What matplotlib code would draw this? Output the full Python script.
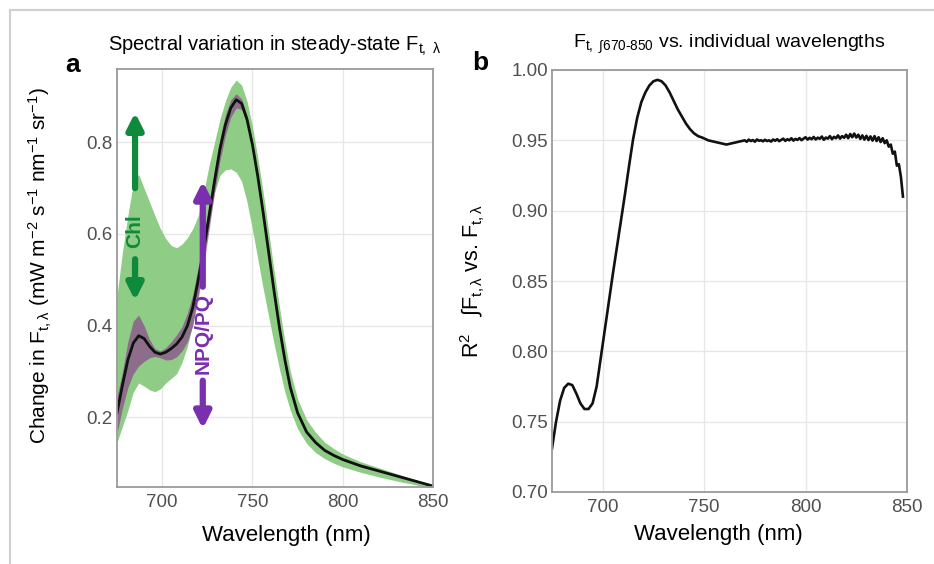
import matplotlib
matplotlib.use("Agg")
import matplotlib.pyplot as plt
from matplotlib.lines import Line2D

plt.rcParams['font.family'] = ['Liberation Sans', 'DejaVu Sans']
plt.rcParams['mathtext.fontset'] = 'custom'
plt.rcParams['mathtext.rm'] = 'Liberation Sans'
plt.rcParams['mathtext.it'] = 'Liberation Sans'
plt.rcParams['mathtext.bf'] = 'Liberation Sans:bold'

# panel a: spectral variation of steady-state Ft
wl_a = [675, 678, 681, 684, 687, 690, 693, 696, 699, 702, 705, 708, 711, 714,
        717, 720, 723, 726, 729, 732, 735, 738, 741, 744, 747, 750, 753, 756,
        759, 762, 765, 768, 771, 775, 780, 785, 790, 795, 800, 810, 820, 830,
        840, 850]
ft_mean = [0.210, 0.270, 0.325, 0.362, 0.378, 0.372, 0.355, 0.342, 0.338, 0.342,
           0.350, 0.360, 0.375, 0.400, 0.440, 0.500, 0.565, 0.640, 0.715, 0.785,
           0.838, 0.875, 0.893, 0.885, 0.850, 0.795, 0.725, 0.645, 0.560, 0.475,
           0.395, 0.325, 0.265, 0.210, 0.168, 0.145, 0.128, 0.117, 0.108, 0.094,
           0.083, 0.072, 0.061, 0.050]
chl_hi = [0.465, 0.560, 0.640, 0.710, 0.730, 0.700, 0.670, 0.640, 0.612, 0.590,
          0.575, 0.570, 0.578, 0.592, 0.612, 0.640, 0.690, 0.750, 0.800, 0.850,
          0.890, 0.920, 0.936, 0.925, 0.890, 0.835, 0.765, 0.690, 0.605, 0.520,
          0.440, 0.365, 0.300, 0.240, 0.195, 0.167, 0.146, 0.132, 0.120, 0.103,
          0.090, 0.077, 0.064, 0.052]
chl_lo = [0.145, 0.180, 0.215, 0.255, 0.275, 0.268, 0.260, 0.256, 0.262, 0.275,
          0.285, 0.295, 0.320, 0.355, 0.405, 0.470, 0.545, 0.620, 0.690, 0.728,
          0.740, 0.742, 0.735, 0.715, 0.670, 0.610, 0.545, 0.480, 0.420, 0.360,
          0.305, 0.255, 0.215, 0.175, 0.143, 0.123, 0.110, 0.100, 0.092, 0.080,
          0.070, 0.061, 0.053, 0.045]
npq_hi = [0.245, 0.300, 0.365, 0.410, 0.423, 0.400, 0.370, 0.350, 0.345, 0.352,
          0.365, 0.380, 0.398, 0.428, 0.468, 0.530, 0.590, 0.665, 0.740, 0.808,
          0.860, 0.893, 0.906, 0.895, 0.858, 0.800, 0.730, 0.650, 0.566, 0.480,
          0.400, 0.330, 0.270, 0.214, 0.171, 0.148, 0.130, 0.119, 0.110, 0.096,
          0.084, 0.073, 0.062, 0.051]
npq_lo = [0.165, 0.220, 0.265, 0.295, 0.312, 0.322, 0.330, 0.333, 0.330, 0.325,
          0.326, 0.332, 0.345, 0.365, 0.400, 0.460, 0.530, 0.610, 0.690, 0.760,
          0.815, 0.855, 0.875, 0.872, 0.840, 0.788, 0.720, 0.640, 0.554, 0.470,
          0.390, 0.320, 0.260, 0.206, 0.165, 0.142, 0.126, 0.115, 0.106, 0.092,
          0.082, 0.071, 0.060, 0.049]

# panel b: R2 of integrated Ft vs. Ft at each wavelength
wl_b = [675, 677, 679, 681, 683, 685, 687, 689, 691, 693, 695, 697, 699, 701,
        703, 705, 707, 709, 711, 713, 715, 717, 719, 721, 723, 725, 727, 729,
        731, 733, 735, 737, 739, 741, 743, 745, 747, 749, 752, 755, 758, 761,
        764, 767,
        770, 771, 772, 773, 774, 775, 776, 777, 778, 779, 780, 781, 782, 783,
        784, 785, 786, 787, 788, 789, 790, 791, 792, 793, 794, 795, 796, 797,
        798, 799, 800, 801, 802, 803, 804, 805, 806, 807, 808, 809, 810, 811,
        812, 813, 814, 815, 816, 817, 818, 819, 820, 821, 822, 823, 824, 825,
        826, 827, 828, 829, 830, 831, 832, 833, 834, 835, 836, 837, 838, 839,
        840, 841, 842, 843, 844, 845, 846, 847, 848]
r2 = [0.731, 0.750, 0.765, 0.774, 0.777, 0.776, 0.770, 0.763, 0.759, 0.759,
      0.763, 0.775, 0.795, 0.815, 0.835, 0.855, 0.874, 0.893, 0.912, 0.932,
      0.951, 0.966, 0.977, 0.984, 0.989, 0.992, 0.993, 0.992, 0.989, 0.984,
      0.978, 0.972, 0.967, 0.962, 0.958, 0.955, 0.953, 0.952, 0.950, 0.949,
      0.948, 0.947, 0.948, 0.949,
      0.9500, 0.9490, 0.9505, 0.9495, 0.9502, 0.9490, 0.9506, 0.9497, 0.9501,
      0.9493, 0.9504, 0.9495, 0.9500, 0.9491, 0.9506, 0.9497, 0.9508, 0.9494,
      0.9503, 0.9512, 0.9496, 0.9508, 0.9500, 0.9515, 0.9498, 0.9510, 0.9503,
      0.9516, 0.9501, 0.9512, 0.9522, 0.9505, 0.9518, 0.9508, 0.9524, 0.9506,
      0.9519, 0.9511, 0.9527, 0.9504, 0.9520, 0.9512, 0.9530, 0.9508, 0.9525,
      0.9515, 0.9535, 0.9512, 0.9530, 0.9518, 0.9540, 0.9515, 0.9545, 0.9522,
      0.9548, 0.9520, 0.9540, 0.9510, 0.9535, 0.9505, 0.9532, 0.9502, 0.9528,
      0.9498, 0.9530, 0.9495, 0.9522, 0.9488, 0.9515, 0.9480, 0.9500, 0.9455,
      0.9470, 0.9405, 0.9420, 0.9320, 0.9330, 0.9240, 0.9100]

GREEN_FILL = '#8fcc85'
PURPLE_FILL = '#8a2f90'
GREEN_ARROW = '#0f8a3c'
PURPLE_ARROW = '#7a2fae'
TICK_COL = '#505050'


def style_axes(ax):
    ax.grid(True, color='#e6e6e6', lw=0.9)
    ax.set_axisbelow(True)
    for sp in ax.spines.values():
        sp.set_color('#9a9a9a')
        sp.set_linewidth(1.3)
    ax.tick_params(length=0, labelsize=13.5, colors=TICK_COL, pad=5)
    ax.tick_params(axis='y', pad=3)


W, H = 934, 564
fig = plt.figure(figsize=(W / 100, H / 100), dpi=100)


def px_rect(l, t, r, b):
    return [l / W, 1 - b / H, (r - l) / W, (b - t) / H]


# --- panel a ---
ax = fig.add_axes(px_rect(117, 69, 433, 487))
ax.fill_between(wl_a, chl_lo, chl_hi, color=GREEN_FILL, lw=0)
ax.fill_between(wl_a, npq_lo, npq_hi, color=PURPLE_FILL, alpha=0.6, lw=0)
ax.plot(wl_a, ft_mean, color='#111111', lw=2)
ax.set_xlim(675, 850)
ax.set_ylim(0.048, 0.96)
ax.set_xticks([700, 750, 800, 850])
ax.set_yticks([0.2, 0.4, 0.6, 0.8])
style_axes(ax)
ax.set_xlabel('Wavelength (nm)', fontsize=16)
ax.xaxis.set_label_coords(0.535, -0.09)
ax.set_ylabel(r'Change in F$_{t,\lambda}$ (mW m$^{-2}$ s$^{-1}$ nm$^{-1}$ sr$^{-1}$)',
              fontsize=15)
ax.yaxis.set_label_coords(-0.2, 0.53)
ax.set_title(r'Spectral variation in steady-state F$_{t,\ \lambda}$', fontsize=14.5, pad=13)

# arrows for Chl and NPQ/PQ
aprops = dict(arrowstyle='-|>', lw=4.5, mutation_scale=24, shrinkA=0, shrinkB=0)
ax.annotate('', xy=(685, 0.865), xytext=(685, 0.70),
            arrowprops=dict(color=GREEN_ARROW, **aprops))
ax.annotate('', xy=(685, 0.455), xytext=(685, 0.545),
            arrowprops=dict(color=GREEN_ARROW, **aprops))
ax.text(685, 0.607, 'Chl', rotation=90, ha='center', va='center',
        color=GREEN_ARROW, fontsize=15, fontweight='bold')
ax.annotate('', xy=(722.5, 0.715), xytext=(722.5, 0.485),
            arrowprops=dict(color=PURPLE_ARROW, **aprops))
ax.annotate('', xy=(722.5, 0.175), xytext=(722.5, 0.28),
            arrowprops=dict(color=PURPLE_ARROW, **aprops))
ax.text(722.5, 0.383, 'NPQ/PQ', rotation=90, ha='center', va='center',
        color=PURPLE_ARROW, fontsize=15, fontweight='bold')

# --- panel b ---
bx = fig.add_axes(px_rect(552, 70, 907, 492))
bx.plot(wl_b, r2, color='#111111', lw=1.9)
bx.set_xlim(675, 850)
bx.set_ylim(0.70, 1.00)
bx.set_xticks([700, 750, 800, 850])
bx.set_yticks([0.70, 0.75, 0.80, 0.85, 0.90, 0.95, 1.00])
bx.set_yticklabels(['%.2f' % v for v in [0.70, 0.75, 0.80, 0.85, 0.90, 0.95, 1.00]])
style_axes(bx)
bx.set_xlabel('Wavelength (nm)', fontsize=16)
bx.xaxis.set_label_coords(0.47, -0.076)
bx.set_ylabel(r'R$^2$   ∫F$_{t,\lambda}$ vs. F$_{t,\lambda}$', fontsize=15.5)
bx.yaxis.set_label_coords(-0.183, 0.5)
bx.set_title(r'F$_{t,\ ∫670‐850}$ vs. individual wavelengths', fontsize=14, pad=16)

# panel letters
fig.text(73 / W, 1 - 65 / H, 'a', fontsize=19, fontweight='bold', ha='center', va='center')
fig.text(480 / W, 1 - 63 / H, 'b', fontsize=19, fontweight='bold', ha='center', va='center')

# light frame around the figure (top and left edges)
fig.add_artist(Line2D([10 / W, 10 / W], [0, 1 - 10 / H], color='#cfcfcf', lw=1.5))
fig.add_artist(Line2D([10 / W, 1], [1 - 10 / H, 1 - 10 / H], color='#cfcfcf', lw=1.5))

fig.savefig('out.png', dpi=100)
